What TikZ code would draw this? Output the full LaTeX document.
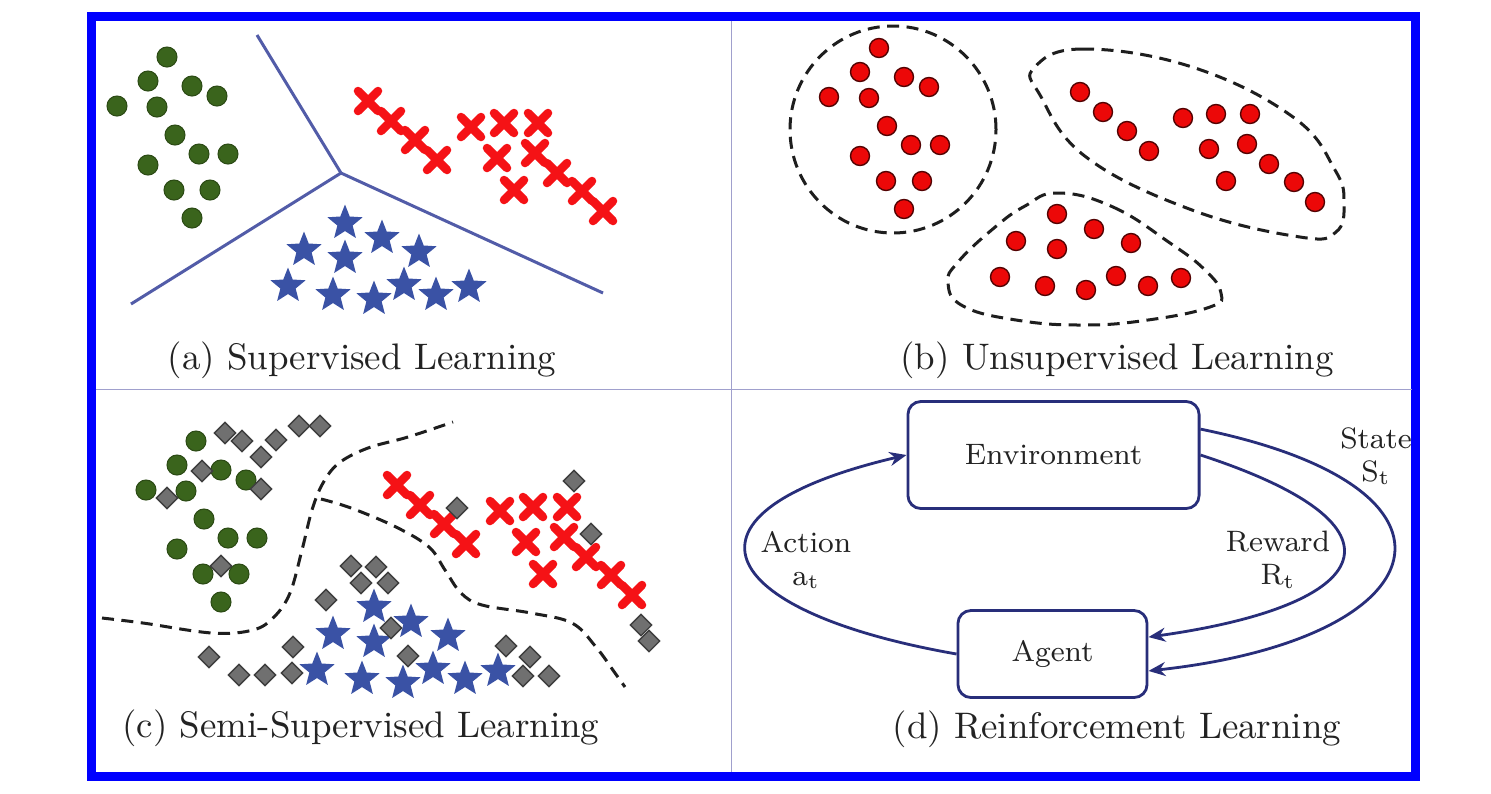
\documentclass[tikz,border=0pt]{standalone}
\usepackage{fontspec}
\usepackage{tikz}
\usetikzlibrary{shapes.geometric,shapes.misc,arrows.meta}

\definecolor{framebl}{RGB}{0,0,255}
\definecolor{divgray}{RGB}{160,160,205}
\definecolor{dotgreen}{RGB}{58,100,28}
\definecolor{crossred}{RGB}{245,18,22}
\definecolor{starblue}{RGB}{58,82,165}
\definecolor{sepblue}{RGB}{82,92,168}
\definecolor{dotred}{RGB}{236,8,8}
\definecolor{diagray}{RGB}{112,112,112}
\definecolor{dashgray}{RGB}{30,30,30}
\definecolor{navy}{RGB}{40,46,122}
\definecolor{txtgray}{RGB}{35,35,35}

% point clouds of panel (a), in pixels, y downwards
\def\greenpts{167/57,148/81,192/86,217/96,117/106,157/107,175/135,199/154,228/154,148/165,174/190,210/190,192/218}
\def\crosspts{368/101,391/121,415/140,437/160,471/127,504/123,538/123,497/158,535/153,557/173,514/190,582/191,603/211}
\def\starpts{345/223,382/238,304/250,345/258,419/252,288/286,333/295,374/299,404/285,436/295,469/287}
\def\unlabpts{225/433,242/441,276/440,299/426,320/426,261/457,202/471,261/489,167/498,457/508,574/481,591/534,221/566,351/566,376/567,361/583,388/583,326/600,391/628,641/625,649/641,293/647,408/656,506/646,530/657,209/657,239/675,265/675,292/673,523/676,549/676}

\tikzset{
  gdot/.style={circle,fill=dotgreen,draw=dotgreen!75!black,line width=0.3pt,inner sep=0pt,minimum size=0.2cm},
  rcross/.style={cross out,draw=crossred,line width=0.085cm,line cap=round,inner sep=0pt,minimum size=0.115cm},
  bstar/.style={star,star points=5,star point ratio=2.3,fill=starblue,inner sep=0pt,minimum size=0.37cm},
  rdot/.style={circle,fill=dotred,draw=dotred!35!black,line width=0.4pt,inner sep=0pt,minimum size=0.19cm},
  gdiam/.style={diamond,fill=diagray,draw=diagray!55!black,line width=0.4pt,inner sep=0pt,minimum size=0.22cm},
  sepline/.style={draw=sepblue,line width=0.03cm},
  bound/.style={draw=dashgray,line width=0.03cm,dash pattern=on 0.12cm off 0.075cm},
  boxnode/.style={draw=navy,line width=0.028cm,rounded corners=0.13cm,inner sep=0pt,
    text=txtgray,font=\fontsize{8.4}{10}\selectfont},
  flow/.style={draw=navy,line width=0.028cm,-{Stealth[length=0.17cm,width=0.14cm]}},
  caption/.style={anchor=base,text=txtgray,font=\fontsize{10.5}{12}\selectfont},
  lbl/.style={align=center,text=txtgray,font=\fontsize{8.4}{9.4}\selectfont}
}

\begin{document}
\begin{tikzpicture}[x=0.01cm,y=0.01cm]
\fill[white] (0,0) rectangle (1491,-793);
\useasboundingbox (0,0) rectangle (1491,-793);

% frame and panel dividers
\draw[framebl,line width=0.082cm] (91.6,-16.5) rectangle (1415.5,-776.5);
\draw[divgray,line width=0.4pt] (731.7,-20.7) -- (731.7,-772.3);
\draw[divgray,line width=0.4pt] (95.7,-389.3) -- (1411.7,-389.3);

% (a) supervised
\coordinate (hub) at (341,-173);
\coordinate (hubtop) at (257,-35);
\coordinate (hubleft) at (131,-304);
\coordinate (hubright) at (603,-293);
\draw[sepline] (hub) -- (hubtop);
\draw[sepline] (hub) -- (hubleft);
\draw[sepline] (hub) -- (hubright);
\foreach \x/\y [count=\i] in \greenpts {\node[gdot] (ga\i) at (\x,-\y) {};}
\foreach \x/\y [count=\i] in \crosspts {\node[rcross] (xa\i) at (\x,-\y) {};}
\foreach \x/\y [count=\i] in \starpts {\node[bstar] (sa\i) at (\x,-\y) {};}
\node[caption] (capa) at (362,-369) {(a) Supervised Learning};

% (b) unsupervised
\begin{scope}[shift={(712,9)}]
\foreach \x/\y [count=\i] in \greenpts {\node[rdot] (bl\i) at (\x,-\y) {};}
\foreach \x/\y [count=\i] in \crosspts {\node[rdot] (br\i) at (\x,-\y) {};}
\foreach \x/\y [count=\i] in \starpts {\node[rdot] (bb\i) at (\x,-\y) {};}
\end{scope}
\draw[bound] (893,-129.5) ellipse (103 and 103.5);
\draw[bound] plot[smooth cycle,tension=0.7] coordinates {(1034,-68) (1082,-49) (1192,-67) (1293,-117)
  (1335,-170) (1344,-203) (1336,-232) (1300,-237) (1192,-210) (1086,-157) (1040,-95)};
\draw[bound] plot[smooth cycle,tension=0.75] coordinates {(1058,-193) (1113,-207) (1170,-243) (1205,-270)
  (1221,-293) (1210,-307) (1148,-320) (1082,-325) (1016,-320) (963,-306) (948,-283) (958,-262) (994,-228) (1025,-206)};
\node[caption] (capb) at (1117,-369) {(b) Unsupervised Learning};

% (c) semi-supervised
\begin{scope}[shift={(29,-384)}]
\foreach \x/\y [count=\i] in \greenpts {\node[gdot] (gc\i) at (\x,-\y) {};}
\foreach \x/\y [count=\i] in \crosspts {\node[rcross] (xc\i) at (\x,-\y) {};}
\foreach \x/\y [count=\i] in \starpts {\node[bstar] (sc\i) at (\x,-\y) {};}
\end{scope}
\foreach \x/\y [count=\i] in \unlabpts {\node[gdiam] (dc\i) at (\x,-\y) {};}
\draw[bound] plot[smooth,tension=0.6] coordinates {(102,-618) (143,-623) (212,-633) (253,-630) (274,-617)
  (290,-593) (302,-550) (312,-510) (323,-483) (339,-463) (368,-448) (408,-437) (453,-422)};
\draw[bound] plot[smooth,tension=0.6] coordinates {(321,-499) (351,-508) (396,-527) (429,-547) (445,-570)
  (461,-593) (482,-605) (531,-613) (572,-623) (596,-647) (615,-673) (625,-687)};
\node[caption] (capc) at (361,-737) {(c) Semi-Supervised Learning};

% (d) reinforcement
\node[boxnode,minimum width=2.91cm,minimum height=1.07cm] (env) at (1053.5,-455) {Environment};
\node[boxnode,minimum width=1.89cm,minimum height=0.87cm] (agent) at (1052.5,-654) {Agent};
\draw[flow] (agent.west) .. controls +(-246,43) and +(-243,-57) .. (env.west);
\draw[flow] (env.east) .. controls +(218,-71) and +(228,32) .. (agent.10);
\draw[flow] (env.10) .. controls +(289,-59) and +(292,32) .. (agent.-10);
\node[lbl] (actlbl) at (806,-560) {Action\\a\textsubscript{t}};
\node[lbl] (rewlbl) at (1278,-560) {Reward\\R\textsubscript{t}};
\node[lbl] (statelbl) at (1376,-456) {State\\S\textsubscript{t}};
\node[caption] (capd) at (1117,-738) {(d) Reinforcement Learning};
\end{tikzpicture}
\end{document}
